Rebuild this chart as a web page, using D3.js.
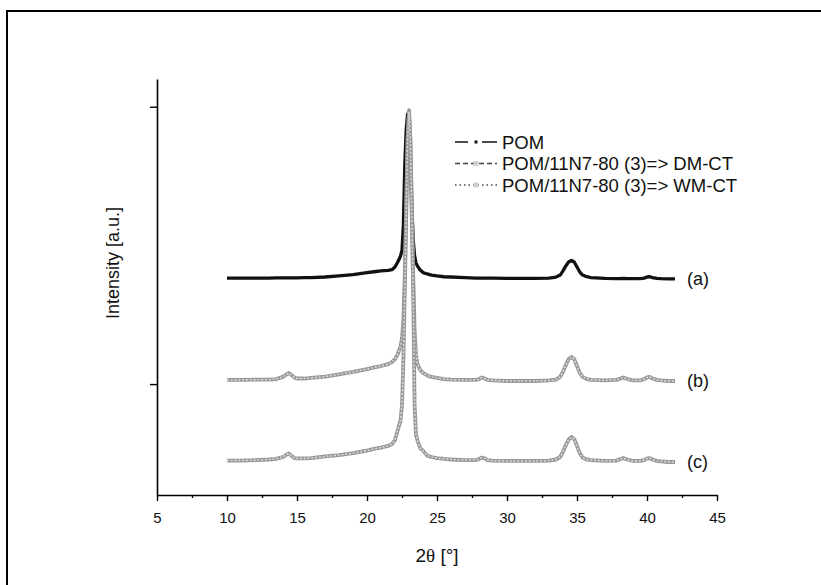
<!DOCTYPE html>
<html>
<head>
<meta charset="utf-8">
<script src="https://cdn.jsdelivr.net/npm/d3@7/dist/d3.min.js"></script>
<style>
  html, body { margin: 0; padding: 0; background: #fff; }
  svg { display: block; }
  text { font-family: "Liberation Sans", Arial, Helvetica, sans-serif; fill: #111; }
</style>
</head>
<body>
<svg id="chart" width="821" height="585"></svg>
<script>
// Diffraction angle (2θ, degrees) shared by all three patterns
const twoTheta = [10, 11, 12, 13, 13.5, 14, 14.2, 14.4, 14.6, 14.8,
  15, 15.5, 16, 17, 18, 19, 20, 20.5, 21, 21.5,
  21.8, 22.0, 22.2, 22.4, 22.5, 22.6, 22.7, 22.8, 22.9, 23.0,
  23.1, 23.2, 23.3, 23.4, 23.5, 23.6, 23.8, 24.0, 24.3, 24.6,
  25, 25.5, 26, 27, 27.8, 28.0, 28.2, 28.4, 28.6, 29,
  30, 31, 32, 33, 33.5, 33.8, 34.0, 34.2, 34.4, 34.6,
  34.8, 35.0, 35.2, 35.4, 35.7, 36, 37, 37.8, 38.0, 38.3,
  38.6, 39, 39.5, 39.8, 40.0, 40.2, 40.4, 40.7, 41, 41.5, 42];

// (a) POM, vertically offset
const intensityPOM = [782, 782, 782, 782, 783, 783, 783, 783, 783, 783,
  783, 784, 784, 786, 790, 795, 802, 805, 808, 810,
  813, 822, 840, 862, 883, 974, 1190, 1316, 1374, 1334,
  1190, 1046, 920, 862, 837, 826, 811, 802, 797, 793,
  790, 787, 786, 784, 782, 782, 782, 782, 782, 782,
  781, 781, 781, 782, 786, 793, 808, 826, 840, 846,
  840, 822, 804, 793, 787, 784, 781, 780, 780, 781,
  780, 780, 780, 782, 786, 787, 784, 781, 780, 779, 779];

// (b) POM/11N7-80 (3)=> DM-CT, vertically offset
const intensityDM = [415, 415, 416, 416, 418, 426, 433, 440, 433, 424,
  420, 420, 422, 427, 435, 444, 454, 460, 465, 472,
  480, 490, 508, 537, 566, 631, 793, 1046, 1280, 1388,
  1280, 1046, 793, 595, 505, 472, 451, 440, 431, 426,
  422, 418, 416, 415, 415, 418, 424, 420, 415, 413,
  411, 411, 411, 413, 416, 426, 444, 469, 490, 498,
  490, 465, 440, 426, 418, 415, 413, 415, 418, 424,
  418, 413, 413, 418, 424, 426, 420, 415, 413, 411, 411];

// (c) POM/11N7-80 (3)=> WM-CT
const intensityWM = [124, 124, 126, 128, 130, 137, 144, 150, 142, 133,
  132, 132, 133, 139, 144, 151, 160, 166, 171, 177,
  184, 198, 234, 270, 325, 487, 739, 1010, 1280, 1381,
  1280, 1010, 739, 325, 216, 198, 169, 160, 142, 137,
  133, 130, 128, 126, 126, 130, 135, 132, 126, 124,
  123, 123, 123, 124, 128, 137, 155, 180, 200, 209,
  202, 177, 151, 135, 128, 126, 123, 124, 128, 133,
  128, 123, 123, 126, 132, 133, 128, 123, 121, 119, 119];

const seriesNames = ["POM", "POM/11N7-80 (3)=> DM-CT", "POM/11N7-80 (3)=> WM-CT"];
const curveTags = ["(a)", "(b)", "(c)"];
const xTicks = [5, 10, 15, 20, 25, 30, 35, 40, 45];
const xMinorTicks = [7.5, 12.5, 17.5, 22.5, 27.5, 32.5, 37.5, 42.5];
const yTicks = [400, 1400];
const yTitle = "Intensity [a.u.]";

const svg = d3.select("#chart");

// outer frame
svg.append("rect")
  .attr("x", 7).attr("y", 11).attr("width", 900).attr("height", 900)
  .attr("fill", "none").attr("stroke", "#000").attr("stroke-width", 2);

const x = d3.scaleLinear().domain([5, 45]).range([157, 717]);
const y = d3.scaleLinear().domain([0, 1500]).range([495, 79]);

// axes
const gx = svg.append("g").attr("transform", `translate(0,${y(0)})`)
  .call(d3.axisBottom(x).tickValues(xTicks).tickSize(6).tickSizeOuter(0).tickPadding(11)
    .tickFormat(d3.format("d")));
svg.append("g").attr("transform", `translate(0,${y(0)})`)
  .call(d3.axisBottom(x).tickValues(xMinorTicks).tickSize(3).tickSizeOuter(0).tickFormat(""))
  .select(".domain").remove();
svg.append("g").attr("transform", `translate(${x(5)},0)`)
  .call(d3.axisLeft(y).tickValues(yTicks).tickSize(7).tickSizeOuter(0).tickFormat(""));

svg.selectAll(".domain").attr("stroke", "#000").attr("stroke-width", 1.6);
svg.selectAll(".tick line").attr("stroke", "#000").attr("stroke-width", 1.4);
gx.selectAll(".tick text").attr("font-size", 15).style("font-family", "Liberation Sans, Arial, sans-serif").attr("fill", "#111");

// axis titles (theta set in a serif face)
const xt = svg.append("text").attr("x", 437).attr("y", 562).attr("text-anchor", "middle")
  .attr("font-size", 19);
xt.append("tspan").text("2");
xt.append("tspan").style("font-family", "Liberation Serif, Times New Roman, serif").text("θ");
xt.append("tspan").text(" [°]");
svg.append("text").attr("transform", "translate(119,263) rotate(-90)")
  .attr("text-anchor", "middle").attr("font-size", 18).text(yTitle);

const line = d3.line().x((d, i) => x(twoTheta[i])).y(d => y(d));

// (a) solid dark trace
svg.append("path").datum(intensityPOM).attr("d", line)
  .attr("fill", "none").attr("stroke", "#111").attr("stroke-width", 3.3)
  .attr("stroke-linejoin", "round");

// (b), (c) grey traces: dense open-symbol look
[intensityDM, intensityWM].forEach(vals => {
  svg.append("path").datum(vals).attr("d", line)
    .attr("fill", "none").attr("stroke", "#989898").attr("stroke-width", 3.8)
    .attr("stroke-linejoin", "round");
  svg.append("path").datum(vals).attr("d", line)
    .attr("fill", "none").attr("stroke", "#dcdcdc").attr("stroke-width", 1.5)
    .attr("stroke-dasharray", "2,1.8");
});

// curve tags at the right end of each trace
[intensityPOM, intensityDM, intensityWM].forEach((vals, i) => {
  svg.append("text").attr("x", x(twoTheta[twoTheta.length - 1]) + 12)
    .attr("y", y(vals[vals.length - 1]) + 6).attr("font-size", 18).text(curveTags[i]);
});

// legend
const legendStyles = [
  { dash: "13,14,15", stroke: "#111", marker: "#111", ms: 3 },
  { dash: "5,3", stroke: "#444", marker: "#d0d0d0", ms: 5 },
  { dash: "1.5,3", stroke: "#444", marker: "#d0d0d0", ms: 5 }
];
const leg = svg.append("g").attr("transform", "translate(455,142)");
seriesNames.forEach((name, i) => {
  const row = leg.append("g").attr("transform", `translate(0,${i * 21.5})`);
  const st = legendStyles[i];
  row.append("line").attr("x1", 0).attr("x2", 42).attr("y1", 0).attr("y2", 0)
    .attr("stroke", st.stroke).attr("stroke-width", 1.4).attr("stroke-dasharray", st.dash);
  row.append("rect").attr("x", 21 - st.ms / 2).attr("y", -st.ms / 2)
    .attr("width", st.ms).attr("height", st.ms).attr("fill", st.marker);
  row.append("text").attr("x", 47).attr("y", 6.5).attr("font-size", 18.5).text(name);
});
</script>
</body>
</html>
